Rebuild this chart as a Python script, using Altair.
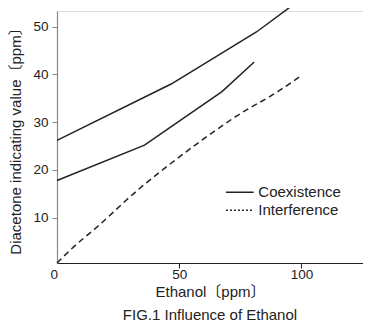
import altair as alt
import pandas as pd

FONT = "Liberation Sans, Arial, Noto Sans CJK JP"
INK = "#222222"

# Upper "Coexistence" curve
upper_x = [0, 46.7, 81.6, 96.1]
upper_y = [26.2, 38.0, 48.9, 54.4]
# Lower "Coexistence" curve
lower_x = [0, 35.8, 67.5, 80.7]
lower_y = [17.8, 25.2, 36.4, 42.6]
# "Interference" curve
interf_x = [0, 6, 16.5, 33.5, 46.7, 60, 73.2, 90.9, 100.4]
interf_y = [0.5, 3.5, 8.1, 16.0, 21.4, 26.5, 31.2, 36.6, 39.9]

series = ["Coexistence", "Interference"]
x_ticks = [0, 50, 100]
y_ticks = [10, 20, 30, 40, 50]

rows = []
for x, y in zip(upper_x, upper_y):
    rows.append({"ethanol": x, "value": y, "curve": "upper", "kind": "Coexistence"})
for x, y in zip(lower_x, lower_y):
    rows.append({"ethanol": x, "value": y, "curve": "lower", "kind": "Coexistence"})
for x, y in zip(interf_x, interf_y):
    rows.append({"ethanol": x, "value": y, "curve": "interf", "kind": "Interference"})
df = pd.DataFrame(rows)

xs = alt.Scale(domain=[0, 125.2], nice=False, zero=False)
ys = alt.Scale(domain=[0.5, 53.3], nice=False, zero=False)

x_axis = alt.Axis(
    values=x_ticks, title="Ethanol〔ppm〕", grid=False, tickSize=5,
    labelFontSize=13.5, titleFontSize=15, labelPadding=-1, titlePadding=4,
    domainColor=INK, tickColor=INK, labelColor=INK, titleColor=INK,
    labelFont=FONT, titleFont=FONT, titleFontWeight="normal",
    labelOffset={"condition": {"test": "datum.value === 0", "value": -7}, "value": 0},
    tickOpacity={"condition": {"test": "datum.value === 0", "value": 0}, "value": 1},
    domainWidth=1.2,
)
y_axis = alt.Axis(
    values=y_ticks, title="Diacetone indicating value〔ppm〕", grid=False, tickSize=5,
    labelFontSize=13.5, titleFontSize=15, labelPadding=4, titlePadding=9,
    domainColor="#888888", tickColor="#888888", labelColor=INK, titleColor=INK,
    labelFont=FONT, titleFont=FONT, titleFontWeight="normal", domainWidth=1.2,
)

base = alt.Chart(df)

solid = base.mark_line(strokeWidth=1.5, clip=False, color=INK).encode(
    x=alt.X("ethanol:Q", scale=xs, axis=x_axis),
    y=alt.Y("value:Q", scale=ys, axis=y_axis),
    detail="curve:N",
).transform_filter(alt.datum.kind == "Coexistence")

dashed = base.mark_line(strokeWidth=1.5, clip=False, color=INK, strokeDash=[6, 4],
                        interpolate="monotone").encode(
    x=alt.X("ethanol:Q", scale=xs),
    y=alt.Y("value:Q", scale=ys),
    detail="curve:N",
).transform_filter(alt.datum.kind == "Interference")

legend_layer = base.mark_line(strokeWidth=1.5, color=INK).encode(
    x=alt.X("ethanol:Q", scale=xs),
    y=alt.Y("value:Q", scale=ys),
    strokeDash=alt.StrokeDash(
        "kind:N",
        scale=alt.Scale(domain=series, range=[[1, 0], [2, 2]]),
        legend=alt.Legend(
            title=None, orient="none", legendX=173.3, legendY=171.7,
            symbolType="M-1.6,0H1.6", symbolSize=300, symbolStrokeWidth=1.5,
            symbolStrokeColor=INK, symbolOpacity=1,
            labelFontSize=15, labelFont=FONT, labelColor=INK,
            labelOffset=9, padding=0, rowPadding=-3,
        ),
    ),
).transform_filter("datum.value < -1000")

chart = alt.layer(legend_layer, solid, dashed).properties(
    width=306, height=252,
    autosize=alt.AutoSizeParams(type="none"),
    padding={"left": 49, "top": 3, "right": 0, "bottom": 61},
    title=alt.TitleParams(
        "FIG.1 Influence of Ethanol", orient="bottom", fontSize=15,
        fontWeight="normal", font=FONT, color=INK, offset=8, anchor="middle",
    ),
).configure_view(stroke=None).configure(background="white")

chart.save("out.html", embed_options={"renderer": "svg", "actions": False})
